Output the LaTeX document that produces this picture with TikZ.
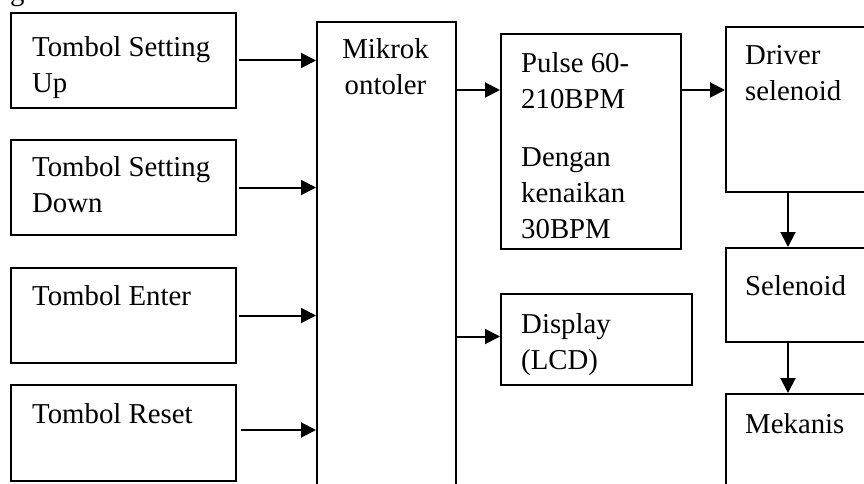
\documentclass[tikz,border=0pt]{standalone}
\usepackage{fontspec}
\setmainfont{Liberation Serif}
\usetikzlibrary{arrows.meta}
\tikzset{
  blk/.style={draw, line width=2pt, inner sep=0pt, anchor=north west},
  lbl/.style={anchor=base west, inner sep=0pt, align=left,
    font=\fontsize{28.8}{36}\selectfont},
  flow/.style={line width=2pt, -{Triangle[length=15pt,width=15pt]}}
}
\begin{document}
\begin{tikzpicture}[x=1pt,y=-1pt]
\clip (0,0) rectangle (864,484);
\fill[white] (0,0) rectangle (864,484);

% fragment of the heading line above the diagram
\node[lbl] (hd) at (10,0.5) {g};

% input buttons
\node[blk, minimum width=225pt, minimum height=95pt] (su) at (10,12) {};
\node[blk, minimum width=225pt, minimum height=95pt] (sd) at (10,139) {};
\node[blk, minimum width=225pt, minimum height=95pt] (en) at (10,267) {};
\node[blk, minimum width=225pt, minimum height=96pt] (rs) at (10,384) {};

% microcontroller
\node[blk, minimum width=139pt, minimum height=490pt] (mc) at (316,21) {};

% outputs
\node[blk, minimum width=180pt, minimum height=215pt] (pl) at (500,33) {};
\node[blk, minimum width=191pt, minimum height=91pt] (ds) at (500,293) {};
\node[blk, minimum width=175pt, minimum height=165pt] (dr) at (725,26) {};
\node[blk, minimum width=175pt, minimum height=94pt] (sl) at (725,247) {};
\node[blk, minimum width=175pt, minimum height=140pt] (mk) at (725,393) {};

% labels (multi-line labels sit on the baseline of their last line)
\node[lbl] (tsu) at (32,93) {Tombol Setting\\Up};
\node[lbl] (tsd) at (32,212) {Tombol Setting\\Down};
\node[lbl] (ten) at (32,305) {Tombol Enter};
\node[lbl] (trs) at (32,423) {Tombol Reset};
\node[lbl, anchor=base, align=center] (tmc) at (385.5,95) {Mikrok\\ontoler};
\node[lbl] (tpl) at (521,238) {Pulse 60-\\210BPM\\[22pt]Dengan\\kenaikan\\30BPM};
\node[lbl] (tds) at (521,369) {Display\\(LCD)};
\node[lbl] (tdr) at (745,101) {Driver\\selenoid};
\node[lbl] (tsl) at (745,295) {Selenoid};
\node[lbl] (tmk) at (745,433) {Mekanis};

% connector end points
\coordinate (pin) at (500,90);
\coordinate (drin) at (725,90);
\coordinate (col) at (788,0);

% connectors
\draw[flow] ([xshift=2pt]su.east) -- (su.east -| mc.west);
\draw[flow] ([xshift=2pt]sd.east) -- (sd.east -| mc.west);
\draw[flow] ([xshift=2pt]en.east) -- (en.east -| mc.west);
\draw[flow] ([xshift=4pt,yshift=3pt]rs.east) -- ([yshift=3pt]rs.east -| mc.west);
\draw[flow] (pin -| mc.east) -- (pin);
\draw[flow] (drin -| pl.east) -- (drin);
\draw[flow] ([yshift=3pt]ds.west -| mc.east) -- ([yshift=3pt]ds.west);
\draw[flow] (col |- dr.south) -- (col |- sl.north);
\draw[flow] (col |- sl.south) -- (col |- mk.north);
\end{tikzpicture}
\end{document}
